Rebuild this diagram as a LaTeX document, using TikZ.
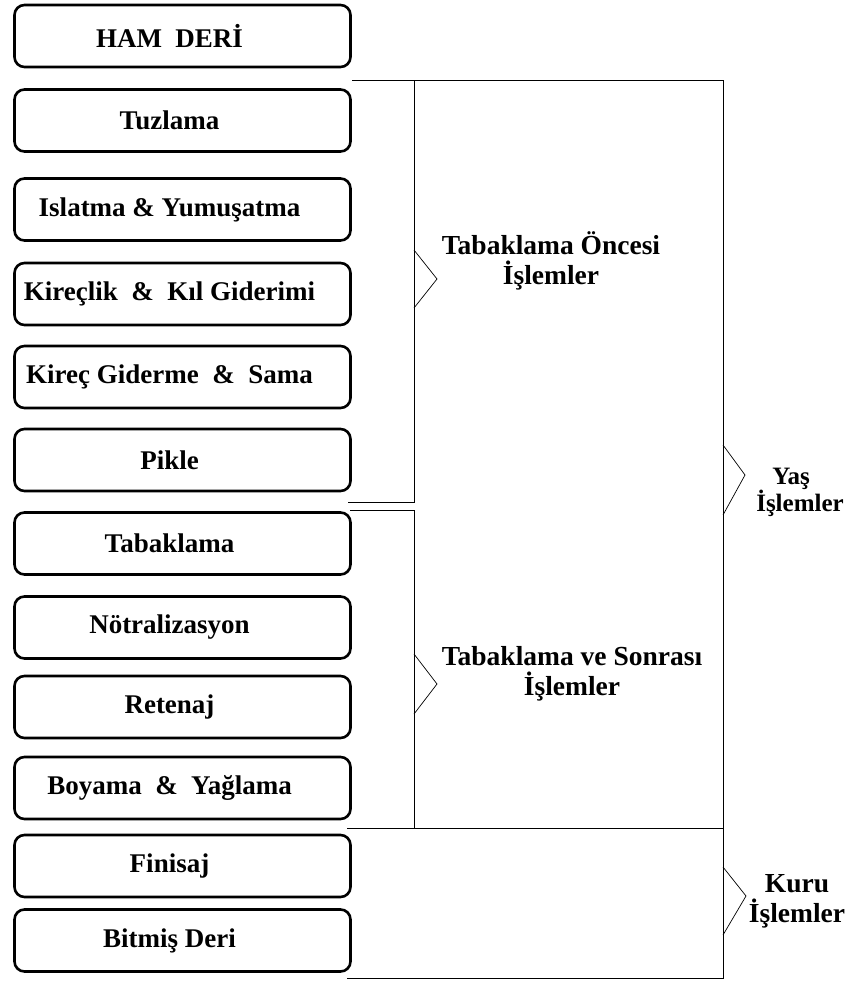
\documentclass[tikz,border=0pt]{standalone}
\usepackage{fontspec}
\setmainfont{Liberation Serif}
\begin{document}
\begin{tikzpicture}[
	x=1pt, y=-1pt,
	stepbox/.style={ draw, line width=2.6pt, rounded corners=10pt, minimum width=336pt, minimum height=62pt, inner sep=0pt, font=\bfseries\fontsize{27}{30}\selectfont, execute at begin node={\hspace*{-26pt}} },
	grouptext/.style={ align=center, inner sep=0pt, font=\bfseries\fontsize{27.5}{30}\selectfont },
	bracket/.style={ line width=1pt },
	wedge/.style={ line width=0.7pt }
]

\useasboundingbox (0,0) rectangle (846,981);

\node at (182.5,36) (ham) [stepbox] {HAM~~DERİ};
\node at (182.5,120.5) (tuz) [stepbox] {Tuzlama};
\node at (182.5,209.5) (isl) [stepbox] {Islatma \& Yumuşatma};
\node at (182.5,294) (kir) [stepbox] {Kireçlik~~\&~~Kıl Giderimi};
\node at (182.5,377) (kgs) [stepbox] {Kireç Giderme~~\&~~Sama};
\node at (182.5,460) (pik) [stepbox] {Pikle};
\node at (182.5,543.5) (tab) [stepbox] {Tabaklama};
\node at (182.5,627.5) (not) [stepbox] {Nötralizasyon};
\node at (182.5,707) (ret) [stepbox] {Retenaj};
\node at (182.5,788) (boy) [stepbox] {Boyama~~\&~~Yağlama};
\node at (182.5,866) (fin) [stepbox] {Finisaj};
\node at (182.5,940.5) (bit) [stepbox] {Bitmiş Deri};

\draw[bracket] (352,81) -- (723,81) -- (723,978) -- (347,978);
\draw[bracket] (414,81) -- (414,502) -- (348,502);
\draw[bracket] (350,510) -- (414,510) -- (414,828);
\draw[bracket] (347,828) -- (723,828);

\draw[wedge] (414,250) -- (437,279) -- (414,308);
\draw[wedge] (414,654) -- (437,684) -- (414,714);
\draw[wedge] (723,445) -- (745,475) -- (723,515);
\draw[wedge] (723,867) -- (746,896) -- (723,935);

\node at (551,261) (onc) [grouptext] {Tabaklama Öncesi\\İşlemler};
\node at (800,492) (yas) [grouptext, font=\bfseries\fontsize{25}{27}\selectfont] {\hspace*{-18pt}Yaş\\İşlemler};
\node at (572,673.5) (son) [grouptext] {Tabaklama ve Sonrası\\İşlemler};
\node at (797,901) (kuru) [grouptext] {Kuru\\İşlemler};

\end{tikzpicture}
\end{document}
